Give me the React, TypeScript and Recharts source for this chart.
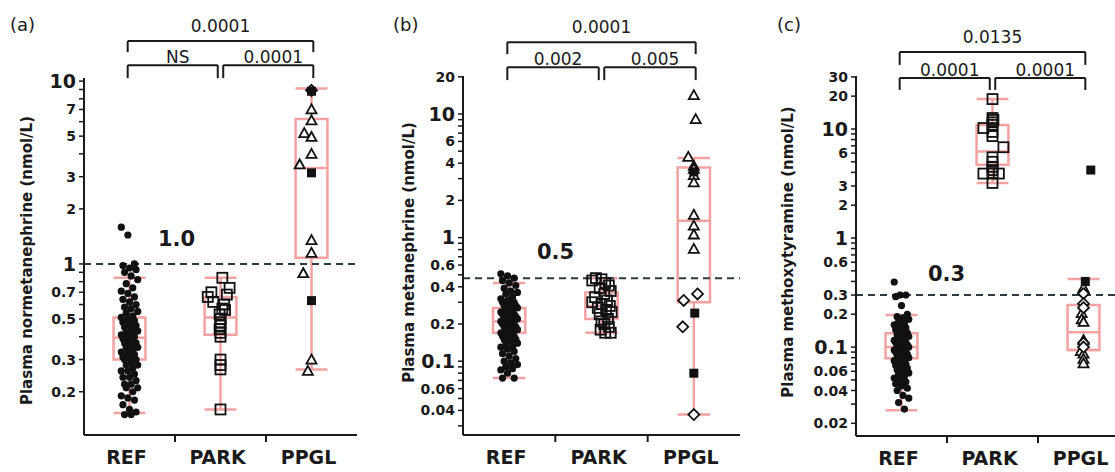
import React from 'react';
import {
  ScatterChart,
  Scatter,
  XAxis,
  YAxis,
  ReferenceLine,
  ReferenceArea,
  ReferenceDot,
} from 'recharts';

// ---------------- data ----------------
const GROUPS = ['REF', 'PARK', 'PPGL'];

// (a) Plasma normetanephrine (nmol/L)
const refA = [1.59, 1.44, 1.0, 0.98, 0.95, 0.93, 0.9, 0.86, 0.82, 0.78, 0.74, 0.71, 0.69, 0.66, 0.64, 0.62, 0.6, 0.58, 0.57, 0.55, 0.54, 0.52, 0.51, 0.5, 0.49, 0.48, 0.47, 0.46, 0.45, 0.44, 0.43, 0.42, 0.42, 0.41, 0.4, 0.4, 0.39, 0.38, 0.37, 0.37, 0.36, 0.35, 0.35, 0.34, 0.33, 0.33, 0.32, 0.31, 0.31, 0.3, 0.3, 0.29, 0.28, 0.28, 0.27, 0.26, 0.26, 0.25, 0.24, 0.24, 0.23, 0.22, 0.22, 0.21, 0.21, 0.2, 0.19, 0.185, 0.18, 0.17, 0.16, 0.155, 0.15, 0.15];
const parkA = [0.84, 0.74, 0.7, 0.68, 0.66, 0.62, 0.6, 0.57, 0.56, 0.53, 0.5, 0.48, 0.46, 0.44, 0.42, 0.4, 0.3, 0.28, 0.265, 0.16];
const parkAX = [0.02, 0.1, -0.1, 0.07, -0.14, -0.08, 0.04, 0.02, 0.05, -0.01, 0, 0, 0, -0.01, 0, 0, 0, 0, 0, 0];
const ppglTriA = [7.0, 6.1, 5.2, 4.95, 4.0, 3.5, 1.35, 1.15, 0.89, 0.3, 0.26];
const ppglTriAX = [0, 0, -0.08, 0, 0, -0.13, 0, 0, -0.09, 0, -0.04];
const ppglDiaA = [8.9];
const ppglDiaAX = [0];
const ppglSqA = [8.8, 3.15, 0.63];
const ppglSqAX = [0, 0, 0];
// box stats: [min, q1, median, q3, max]
const boxRefA = [0.153, 0.3, 0.395, 0.51, 0.84];
const boxParkA = [0.16, 0.41, 0.51, 0.66, 0.84];
const boxPpglA = [0.265, 1.08, 3.35, 6.2, 9.1];

// (b) Plasma metanephrine (nmol/L)
const refB = [0.51, 0.49, 0.47, 0.45, 0.43, 0.41, 0.39, 0.37, 0.36, 0.35, 0.33, 0.32, 0.31, 0.3, 0.3, 0.29, 0.28, 0.28, 0.27, 0.27, 0.26, 0.26, 0.25, 0.25, 0.24, 0.24, 0.23, 0.23, 0.22, 0.22, 0.22, 0.21, 0.21, 0.21, 0.2, 0.2, 0.2, 0.19, 0.19, 0.19, 0.18, 0.18, 0.18, 0.17, 0.17, 0.17, 0.16, 0.16, 0.155, 0.15, 0.15, 0.145, 0.14, 0.135, 0.13, 0.13, 0.125, 0.12, 0.115, 0.11, 0.105, 0.1, 0.097, 0.094, 0.09, 0.087, 0.085, 0.08, 0.073, 0.073];
const parkB = [0.47, 0.46, 0.45, 0.43, 0.41, 0.39, 0.37, 0.35, 0.33, 0.31, 0.3, 0.29, 0.28, 0.27, 0.26, 0.25, 0.24, 0.22, 0.21, 0.2, 0.19, 0.18, 0.17, 0.17];
const parkBX = [-0.06, 0, -0.1, 0.04, 0.08, -0.02, 0.1, 0.03, -0.07, 0.06, -0.1, 0, 0.09, -0.04, 0.05, 0.11, -0.02, 0.07, 0, 0.03, 0.08, -0.01, 0.04, 0.1];
const ppglTriB = [14.2, 9.1, 4.5, 3.8, 3.6, 3.2, 2.8, 1.53, 1.25, 1.06, 0.81];
const ppglTriBX = [0, 0.02, -0.06, 0, 0, 0, 0, 0, 0, 0, 0];
const ppglDiaB = [0.35, 0.31, 0.19, 0.037];
const ppglDiaBX = [0.04, -0.11, -0.12, 0];
const ppglSqB = [3.4, 0.245, 0.08];
const ppglSqBX = [0, 0.01, 0];
const boxRefB = [0.073, 0.17, 0.21, 0.27, 0.43];
const boxParkB = [0.17, 0.22, 0.28, 0.36, 0.47];
const boxPpglB = [0.037, 0.3, 1.37, 3.7, 4.4];

// (c) Plasma methoxytyramine (nmol/L)
const refC = [0.395, 0.3, 0.3, 0.29, 0.24, 0.2, 0.19, 0.185, 0.18, 0.17, 0.165, 0.16, 0.155, 0.15, 0.145, 0.14, 0.135, 0.13, 0.13, 0.125, 0.12, 0.12, 0.115, 0.115, 0.11, 0.11, 0.108, 0.105, 0.103, 0.1, 0.1, 0.098, 0.096, 0.094, 0.092, 0.09, 0.09, 0.088, 0.086, 0.084, 0.082, 0.08, 0.078, 0.076, 0.075, 0.073, 0.07, 0.068, 0.066, 0.064, 0.062, 0.06, 0.058, 0.056, 0.054, 0.052, 0.05, 0.048, 0.046, 0.044, 0.042, 0.04, 0.036, 0.034, 0.031, 0.027];
const parkC = [18.8, 12.6, 12.1, 11.5, 10.9, 10.2, 9.4, 8.6, 6.8, 5.5, 5.0, 4.5, 4.2, 3.9, 3.9, 3.9, 3.2];
const parkCX = [0, 0, 0.01, 0, 0, -0.1, 0, 0, 0.12, 0, 0, 0, 0, -0.1, 0, 0.07, 0];
const ppglTriC = [0.35, 0.205, 0.18, 0.17, 0.116, 0.092, 0.087, 0.078, 0.071];
const ppglTriCX = [0, -0.02, -0.02, 0, 0, -0.03, 0, 0, 0];
const ppglDiaC = [0.31, 0.25, 0.23, 0.109, 0.1];
const ppglDiaCX = [0, 0, 0, 0, 0];
const ppglSqC = [4.2, 0.4];
const ppglSqCX = [0.08, 0.02];
const boxRefC = [0.0264, 0.079, 0.1, 0.134, 0.197];
const boxParkC = [3.2, 4.7, 6.2, 10.9, 18.8];
const boxPpglC = [0.094, 0.094, 0.137, 0.243, 0.42];

// significance brackets: group indexes, p-value text, level (0 lower, 1 upper)
const bracketsA = [
  { from: 0, to: 1, text: 'NS', level: 0 },
  { from: 1, to: 2, text: '0.0001', level: 0 },
  { from: 0, to: 2, text: '0.0001', level: 1 },
];
const bracketsB = [
  { from: 0, to: 1, text: '0.002', level: 0 },
  { from: 1, to: 2, text: '0.005', level: 0 },
  { from: 0, to: 2, text: '0.0001', level: 1 },
];
const bracketsC = [
  { from: 0, to: 1, text: '0.0001', level: 0 },
  { from: 1, to: 2, text: '0.0001', level: 0 },
  { from: 0, to: 2, text: '0.0135', level: 1 },
];

// y-axis ticks
const ticksA = [0.2, 0.3, 0.4, 0.5, 0.6, 0.7, 0.8, 0.9, 1, 2, 3, 4, 5, 6, 7, 8, 9, 10];
const labelsA = [0.2, 0.3, 0.5, 0.7, 1, 2, 3, 5, 7, 10];
const bigA = [1, 10];
const ticksB = [0.03, 0.04, 0.05, 0.06, 0.07, 0.08, 0.09, 0.1, 0.2, 0.3, 0.4, 0.5, 0.6, 0.7, 0.8, 0.9, 1, 2, 3, 4, 5, 6, 7, 8, 9, 10, 20];
const labelsB = [0.04, 0.06, 0.1, 0.2, 0.4, 0.6, 1, 2, 4, 6, 10, 20];
const bigB = [0.1, 1, 10];
const ticksC = [0.02, 0.03, 0.04, 0.05, 0.06, 0.07, 0.08, 0.09, 0.1, 0.2, 0.3, 0.4, 0.5, 0.6, 0.7, 0.8, 0.9, 1, 2, 3, 4, 5, 6, 7, 8, 9, 10, 20, 30];
const labelsC = [0.02, 0.04, 0.06, 0.1, 0.2, 0.3, 0.6, 1, 2, 3, 6, 10, 20, 30];
const bigC = [0.1, 1, 10];

// ---------------- styling ----------------
const FONT = '"DejaVu Sans", Verdana, sans-serif';
const INK = '#1a1a1a';
const PINK = '#f3a2a2';
const H = 472;

const jitter = (i: number, spread: number) => ((((i * 37) % 11) - 5) / 5) * spread;

const DotShape = (p: any) => <circle cx={p.cx} cy={p.cy} r={3.6} fill="#111" />;
const OpenSq = (p: any) => (
  <rect x={p.cx - 5} y={p.cy - 5} width={10} height={10} fill="none" stroke="#111" strokeWidth={1.8} />
);
const Tri = (p: any) => (
  <polygon
    points={`${p.cx},${p.cy - 5} ${p.cx + 5},${p.cy + 4} ${p.cx - 5},${p.cy + 4}`}
    fill="#fff"
    stroke="#111"
    strokeWidth={1.8}
  />
);
const Dia = (p: any) => (
  <polygon
    points={`${p.cx},${p.cy - 5.5} ${p.cx + 5.5},${p.cy} ${p.cx},${p.cy + 5.5} ${p.cx - 5.5},${p.cy}`}
    fill="#fff"
    stroke="#111"
    strokeWidth={1.8}
  />
);
const FillSq = (p: any) => <rect x={p.cx - 4.5} y={p.cy - 4.5} width={9} height={9} fill="#111" />;

const pts = (vals: number[], center: number, offs?: number[], spread = 0) =>
  vals.map((v, i) => ({ x: center + (offs ? offs[i] : jitter(i, spread)), y: v }));

const boxElems = (stats: number[], center: number, key: string) => {
  const [mn, q1, md, q3, mx] = stats;
  const hw = 0.175;
  const common = { stroke: PINK, strokeWidth: 2.5, ifOverflow: 'visible' as const };
  return [
    <ReferenceArea key={key + 'box'} x1={center - hw} x2={center + hw} y1={q1} y2={q3} fill="none" fillOpacity={0} {...common} />,
    <ReferenceLine key={key + 'med'} segment={[{ x: center - hw, y: md }, { x: center + hw, y: md }]} {...common} />,
    <ReferenceLine key={key + 'wl'} segment={[{ x: center, y: mn }, { x: center, y: q1 }]} {...common} />,
    <ReferenceLine key={key + 'wh'} segment={[{ x: center, y: q3 }, { x: center, y: mx }]} {...common} />,
    <ReferenceLine key={key + 'cl'} segment={[{ x: center - hw, y: mn }, { x: center + hw, y: mn }]} {...common} />,
    <ReferenceLine key={key + 'ch'} segment={[{ x: center - hw, y: mx }, { x: center + hw, y: mx }]} {...common} />,
  ];
};

type Panel = {
  letter: string;
  left: number;
  width: number;
  margin: { top: number; right: number; bottom: number; left: number };
  xHeight: number;
  domain: [number, number];
  ticks: number[];
  labels: number[];
  big: number[];
  yLabel: string;
  yLabelDx: number;
  yLabelDy: number;
  threshold: number;
  thresholdText: string;
  thrDx: number;
  thrDy: number;
  letterLeft: number;
  levels: number[][];
  brackets: { from: number; to: number; text: string; level: number }[];
  ref: number[];
  refSpread: number;
  park: number[];
  parkX: number[];
  tri: number[];
  triX: number[];
  dia: number[];
  diaX: number[];
  sq: number[];
  sqX: number[];
  boxes: number[][];
};

const panels: Panel[] = [
  {
    letter: '(a)', left: 0, width: 365, margin: { top: 78, right: 8, bottom: 0, left: 24 }, xHeight: 37,
    domain: [0.116, 10.4], ticks: ticksA, labels: labelsA, big: bigA,
    yLabel: 'Plasma normetanephrine (nmol/L)', yLabelDx: 3, yLabelDy: 4,
    threshold: 1, thresholdText: '1.0', thrDx: 74, thrDy: 18, letterLeft: 10,
    levels: [[12.23, 10.38], [16.55, 14.4]], brackets: bracketsA,
    ref: refA, refSpread: 0.09, park: parkA, parkX: parkAX,
    tri: ppglTriA, triX: ppglTriAX, dia: ppglDiaA, diaX: ppglDiaAX, sq: ppglSqA, sqX: ppglSqAX,
    boxes: [boxRefA, boxParkA, boxPpglA],
  },
  {
    letter: '(b)', left: 370, width: 372, margin: { top: 76, right: 2, bottom: 0, left: 33 }, xHeight: 37,
    domain: [0.0253, 20.3], ticks: ticksB, labels: labelsB, big: bigB,
    yLabel: 'Plasma metanephrine (nmol/L)', yLabelDx: 6, yLabelDy: -3,
    threshold: 0.47, thresholdText: '0.5', thrDx: 74, thrDy: 19, letterLeft: 393,
    levels: [[23.9, 18.8], [38.1, 30.5]], brackets: bracketsB,
    ref: refB, refSpread: 0.09, park: parkB, parkX: parkBX,
    tri: ppglTriB, triX: ppglTriBX, dia: ppglDiaB, diaX: ppglDiaBX, sq: ppglSqB, sqX: ppglSqBX,
    boxes: [boxRefB, boxParkB, boxPpglB],
  },
  {
    letter: '(c)', left: 745, width: 386, margin: { top: 76, right: 2, bottom: 0, left: 51 }, xHeight: 36,
    domain: [0.0153, 30.6], ticks: ticksC, labels: labelsC, big: bigC,
    yLabel: 'Plasma methoxytyramine (nmol/L)', yLabelDx: -8, yLabelDy: -4,
    threshold: 0.3, thresholdText: '0.3', thrDx: 72, thrDy: 14, letterLeft: 777,
    levels: [[29.4, 22.8], [50.9, 38.7]], brackets: bracketsC,
    ref: refC, refSpread: 0.08, park: parkC, parkX: parkCX,
    tri: ppglTriC, triX: ppglTriCX, dia: ppglDiaC, diaX: ppglDiaCX, sq: ppglSqC, sqX: ppglSqCX,
    boxes: [boxRefC, boxParkC, boxPpglC],
  },
];

const centers = [0.5, 1.5, 2.5];

function PanelChart({ p }: { p: Panel }) {
  const YTick = (t: any) => {
    const v = t.payload.value;
    if (!p.labels.some((l) => Math.abs(l - v) < 1e-9)) return <g />;
    const isBig = p.big.some((l) => Math.abs(l - v) < 1e-9);
    return (
      <text x={t.x} y={t.y} dy="0.36em" textAnchor="end" fontFamily={FONT} fontWeight="bold" fontSize={isBig ? 19 : 14} fill={INK}>
        {String(v)}
      </text>
    );
  };
  const XTick = (t: any) => {
    const v = t.payload.value;
    if (Number.isInteger(v)) {
      return <line x1={t.x} x2={t.x} y1={t.y} y2={t.y + 7} stroke={INK} strokeWidth={2} />;
    }
    return (
      <text x={t.x - 3} y={t.y + 29} textAnchor="middle" fontFamily={FONT} fontWeight="bold" fontSize={19} fill={INK}>
        {GROUPS[Math.floor(v)]}
      </text>
    );
  };
  const yLabel = (lp: any) => {
    const vb = lp.viewBox || {};
    const cx = vb.x + p.yLabelDx;
    const cy = vb.y + vb.height / 2 + p.yLabelDy;
    return (
      <text x={cx} y={cy} dy="0.35em" textAnchor="middle" transform={`rotate(-90, ${cx}, ${cy})`} fontFamily={FONT} fontWeight="bold" fontSize={15} fill={INK}>
        {p.yLabel}
      </text>
    );
  };
  const thrLabel = (lp: any) => {
    const vb = lp.viewBox || {};
    return (
      <text x={vb.x + p.thrDx} y={vb.y - p.thrDy} fontFamily={FONT} fontWeight="bold" fontSize={21} fill={INK}>
        {p.thresholdText}
      </text>
    );
  };

  const bracketEls: any[] = [];
  p.brackets.forEach((b, i) => {
    const [top, foot] = p.levels[b.level];
    const x1 = centers[b.from] + (b.from === 1 ? 0.03 : -0.02);
    const x2 = centers[b.to] + (b.to === 1 ? -0.03 : 0.02);
    const st = { stroke: INK, strokeWidth: 2, ifOverflow: 'visible' as const };
    const gap = b.level === 1 ? 9 : 2;
    bracketEls.push(
      <ReferenceLine key={`bh${i}`} segment={[{ x: x1, y: top }, { x: x2, y: top }]} {...st} />,
      <ReferenceLine key={`bl${i}`} segment={[{ x: x1, y: top }, { x: x1, y: foot }]} {...st} />,
      <ReferenceLine key={`br${i}`} segment={[{ x: x2, y: top }, { x: x2, y: foot }]} {...st} />,
      <ReferenceDot
        key={`bt${i}`}
        x={(x1 + x2) / 2}
        y={top}
        r={0}
        fill="none"
        stroke="none"
        ifOverflow="visible"
        label={(lp: any) => (
          <text x={lp.viewBox.x + (b.level === 0 ? 5 : 0)} y={lp.viewBox.y - gap} textAnchor="middle" fontFamily={FONT} fontSize={17} fill={INK}>
            {b.text}
          </text>
        )}
      />
    );
  });

  return (
    <div style={{ position: 'absolute', left: p.left, top: 0 }}>
      <ScatterChart width={p.width} height={H} margin={p.margin}>
        <XAxis
          type="number"
          dataKey="x"
          domain={[0, 3]}
          allowDataOverflow
          ticks={[0.5, 1, 1.5, 2, 2.5]}
          interval={0}
          tick={XTick}
          tickLine={false}
          tickSize={0}
          tickMargin={0}
          height={p.xHeight}
          axisLine={{ stroke: INK, strokeWidth: 2 }}
        />
        <YAxis
          type="number"
          dataKey="y"
          scale="log"
          domain={p.domain}
          allowDataOverflow
          ticks={p.ticks}
          interval={0}
          tick={YTick}
          tickSize={5}
          tickMargin={3}
          width={60}
          axisLine={{ stroke: INK, strokeWidth: 2 }}
          tickLine={{ stroke: INK, strokeWidth: 1.5 }}
          label={yLabel}
        />
        {boxElems(p.boxes[0], centers[0], 'r')}
        {boxElems(p.boxes[1], centers[1], 'k')}
        {boxElems(p.boxes[2], centers[2], 'p')}
        <ReferenceLine y={p.threshold} stroke="#2b3a40" strokeWidth={2} strokeDasharray="7 5" label={thrLabel} />
        {bracketEls}
        <Scatter data={pts(p.ref, centers[0], undefined, p.refSpread)} shape={DotShape} isAnimationActive={false} />
        <Scatter data={pts(p.park, centers[1], p.parkX)} shape={OpenSq} isAnimationActive={false} />
        <Scatter data={pts(p.tri, centers[2], p.triX)} shape={Tri} isAnimationActive={false} />
        <Scatter data={pts(p.dia, centers[2], p.diaX)} shape={Dia} isAnimationActive={false} />
        <Scatter data={pts(p.sq, centers[2], p.sqX)} shape={FillSq} isAnimationActive={false} />
      </ScatterChart>
    </div>
  );
}

export default function App() {
  return (
    <div style={{ position: 'fixed', left: 0, top: 0, width: 1115, height: H, overflow: 'hidden', background: '#fff' }}>
      {panels.map((p) => (
        <PanelChart key={p.letter} p={p} />
      ))}
      {panels.map((p) => (
        <div
          key={p.letter + 'l'}
          style={{ position: 'absolute', left: p.letterLeft, top: 16, fontFamily: FONT, fontSize: 18, lineHeight: '18px', color: INK }}
        >
          {p.letter}
        </div>
      ))}
    </div>
  );
}
